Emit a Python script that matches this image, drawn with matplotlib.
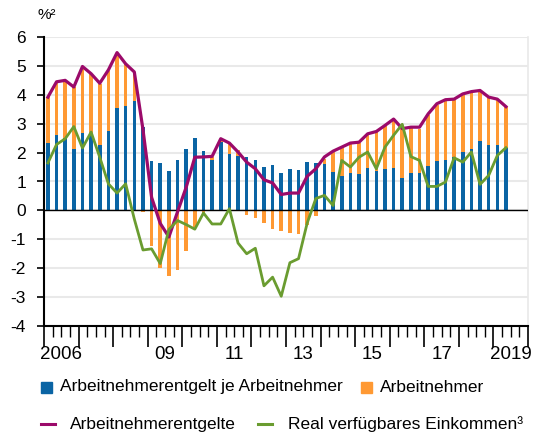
import matplotlib
matplotlib.use("Agg")
import matplotlib.pyplot as plt
from matplotlib.patches import Rectangle
from matplotlib.lines import Line2D
import numpy as np

plt.rcParams['font.family'] = ['Liberation Sans', 'DejaVu Sans']

# Quarterly data 2006Q1 .. 2019Q2
start_year = 2006
je_arbeitnehmer = [2.33, 2.60, 2.51, 2.13, 2.69, 2.65, 2.28, 2.74, 3.55, 3.60, 3.80,
                   2.90,
                   1.71, 1.65, 1.36, 1.75, 2.11, 2.51,
                   2.04, 1.75, 2.36, 1.96, 1.88,
                   1.86, 1.75, 1.51, 1.58, 1.30, 1.42, 1.41, 1.67, 1.63,
                   1.62, 1.33, 1.19, 1.30, 1.27, 1.46, 1.36, 1.42, 1.48, 1.13, 1.30,
                   1.29, 1.55, 1.71, 1.73, 1.84, 2.02, 2.13, 2.39, 2.25, 2.25, 2.17]
arbeitnehmer = [1.59, 1.84, 1.99, 2.14, 2.27, 2.08, 2.10, 2.10, 1.87, 1.47, 0.99,
                -0.05,
                -1.23, -2.00, -2.27, -2.05, -1.42, -0.58,
                -0.17, 0.10, 0.12, 0.35, 0.20,
                -0.17, -0.25, -0.44, -0.63, -0.71, -0.78, -0.80, -0.52, -0.20,
                0.17, 0.72, 0.98, 1.01, 1.06, 1.14, 1.35, 1.49, 1.61, 1.70, 1.55,
                1.54, 1.74, 1.92, 2.10, 1.99, 1.99, 1.96, 1.74, 1.65, 1.58, 1.40]
entgelte = [3.92, 4.45, 4.50, 4.27, 4.98, 4.73, 4.40, 4.86, 5.46, 5.07, 4.79,
            2.80,
            0.45, -0.45, -0.92, -0.05, 0.80, 1.84,
            1.85, 1.87, 2.48, 2.33, 2.02,
            1.67, 1.44, 1.06, 0.95, 0.55, 0.60, 0.60, 1.18, 1.44,
            1.85, 2.05, 2.19, 2.33, 2.36, 2.65, 2.73, 2.94, 3.16, 2.83, 2.88,
            2.88, 3.34, 3.69, 3.83, 3.85, 4.03, 4.11, 4.15, 3.92, 3.85, 3.59]
real_einkommen = [1.64, 2.28, 2.48, 2.90, 2.16, 2.71, 1.84, 0.92, 0.60, 0.92, -0.30,
                  -1.37, -1.33, -1.84, -0.66, -0.35, -0.49, -0.65, -0.09, -0.47, -0.47,
                  0.06, -1.13, -1.50, -1.31, -2.61, -2.31, -2.97, -1.81, -1.67, -0.44,
                  0.41, 0.52, 0.17,
                  1.73, 1.50, 1.84, 2.02, 1.44, 2.19, 2.60, 2.98, 1.86, 1.73, 0.83,
                  0.83, 0.98, 1.82, 1.67, 2.02, 0.90, 1.21, 1.90, 2.17]
xtick_labels = ["2006", "", "", "09", "", "11", "", "13", "", "15", "", "17", "", "2019"]
yticks = [6, 5, 4, 3, 2, 1, 0, -1, -2, -3, -4]

blue = "#0a64a4"
orange = "#ff9933"
purple = "#9b0a6a"
green = "#6a9c30"

n = len(je_arbeitnehmer)
x = start_year + (np.arange(n) + 0.45) / 4.0
b = np.array(je_arbeitnehmer)
o = np.array(arbeitnehmer)

fig = plt.figure(figsize=(5.45, 4.36), dpi=100)
ax = fig.add_axes([44/545, 1-326/436, 484/545, 289/436])

bw = 0.105
ax.bar(x, b, width=bw, color=blue, zorder=3, linewidth=0)
o_bottom = np.where(o >= 0, np.maximum(b, 0), 0)
ax.bar(x, o, bottom=o_bottom, width=bw, color=orange, zorder=3, linewidth=0)

ax.plot(x, entgelte, color=purple, lw=2.3, zorder=5)
ax.plot(x, real_einkommen, color=green, lw=2.0, zorder=6)

ax.axhline(0, color='black', lw=1.0, zorder=4)
ax.set_ylim(-4, 6)
ax.set_xlim(2006, 2020)
ax.set_yticks(yticks)
ax.set_yticklabels([str(v) for v in yticks], fontsize=12.5)
ax.yaxis.grid(True, color='#e9e9e9', lw=1.5, zorder=0)
ax.set_axisbelow(True)

ax.set_xticks(np.arange(2006, 2021))
ax.set_xticks(np.arange(2006, 2020, 0.25), minor=True)
ax.set_xticklabels([])
ax.tick_params(axis='x', which='major', length=15, width=1.2, direction='out', color='black')
ax.tick_params(axis='x', which='minor', length=8, width=1.0, direction='out', color='black')
ax.tick_params(axis='y', length=5, width=1.2, direction='out', pad=8)
for i, lab in enumerate(xtick_labels):
    if lab:
        ax.text(2006 + i + 0.5, -4.98, lab, ha='center', va='center', fontsize=13.5)

ax.spines['top'].set_visible(False)
ax.spines['right'].set_color('#e9e9e9')
ax.spines['right'].set_linewidth(1.2)
ax.spines['left'].set_linewidth(1.5)
ax.spines['bottom'].set_linewidth(1.5)

fig.text(38/545, 1-15/436, "%²", fontsize=11, ha='left', va='center')

# legend (manual)
fs = 12.5
def sq(xp, yp, c):
    fig.patches.append(Rectangle((xp/545, 1-(yp+6)/436), 11/545, 11/436,
                                 transform=fig.transFigure, color=c))
def ln(xp, yp, c):
    fig.lines.append(Line2D([xp/545, (xp+14)/545], [1-yp/436, 1-yp/436],
                            transform=fig.transFigure, color=c, lw=2.2))
sq(41, 387, blue)
fig.text(60/545, 1-387/436, "Arbeitnehmerentgelt je Arbeitnehmer", fontsize=fs, va='center')
sq(361, 387, orange)
fig.text(380/545, 1-387/436, "Arbeitnehmer", fontsize=fs, va='center')
ln(41, 424, purple)
fig.text(70/545, 1-424/436, "Arbeitnehmerentgelte", fontsize=fs, va='center')
ln(258, 424, green)
fig.text(288/545, 1-424/436, "Real verfügbares Einkommen³", fontsize=fs, va='center')

fig.savefig("out.png", dpi=100)
